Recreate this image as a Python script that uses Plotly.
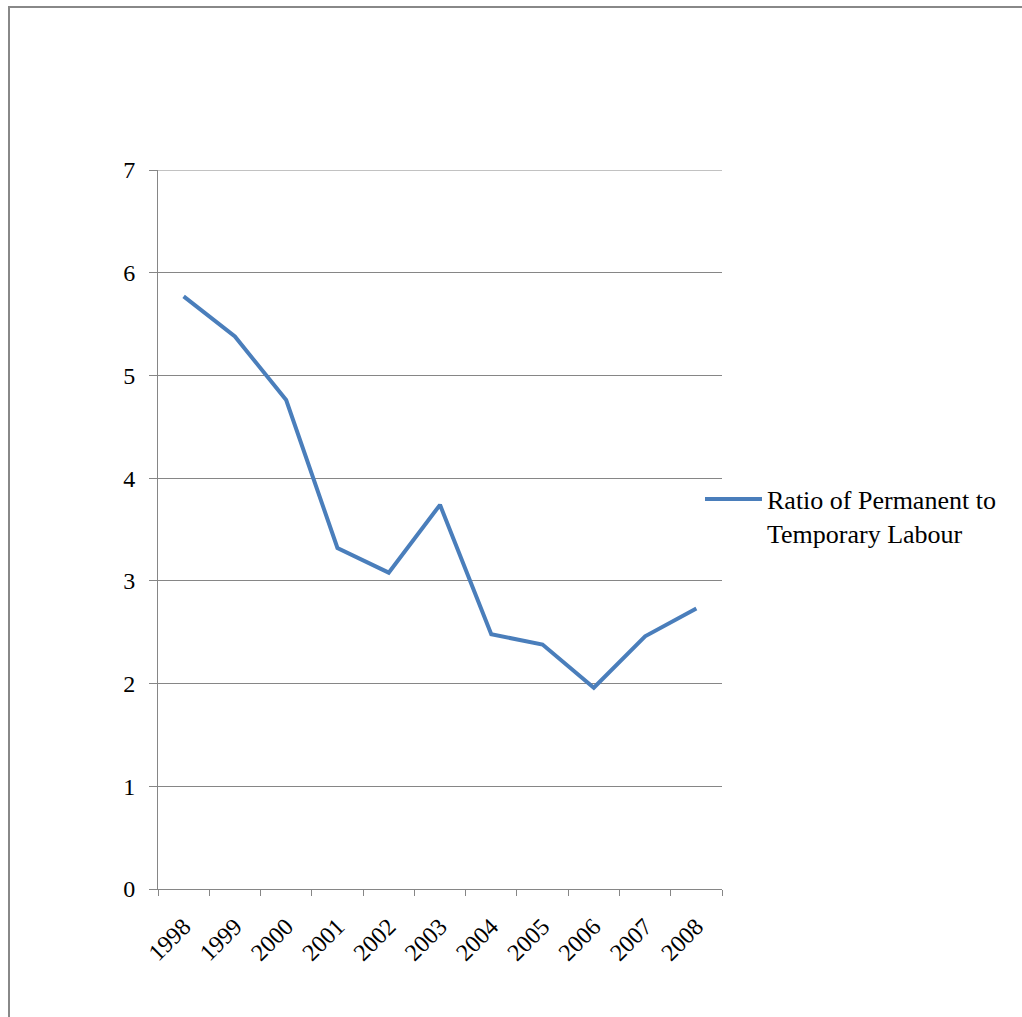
import plotly.graph_objects as go

years = ["1998", "1999", "2000", "2001", "2002", "2003", "2004", "2005", "2006", "2007", "2008"]
ratio = [5.77, 5.38, 4.76, 3.32, 3.08, 3.74, 2.48, 2.38, 1.96, 2.46, 2.73]
series_name = "Ratio of Permanent to<br>Temporary Labour"

fig = go.Figure()
fig.add_trace(go.Scatter(
    x=years, y=ratio, mode="lines", name=series_name,
    line=dict(color="#4A7EBB", width=4),
))

L, R, T, B = 158, 722, 170, 889
W, H = 1022, 1017
pw, ph = R - L, B - T

fig.update_layout(
    width=W, height=H,
    margin=dict(l=L, r=W - R, t=T, b=H - B, pad=0),
    paper_bgcolor="white", plot_bgcolor="white",
    font=dict(family="Liberation Serif", size=24, color="black"),
    showlegend=True,
    legend=dict(x=(700 - L) / pw, y=(889 - 516) / ph, xanchor="left", yanchor="middle",
                font=dict(size=26), bgcolor="rgba(0,0,0,0)", tracegroupgap=0,
                itemwidth=57, valign="top"),
    xaxis=dict(
        type="category", range=[-0.5, len(years) - 0.5],
        showline=True, linecolor="#868686", linewidth=1,
        ticks="outside", tickson="boundaries", ticklen=6, tickcolor="#868686",
        tickangle=-45, showgrid=False, tickfont=dict(size=24),
        ticklabelstandoff=13,
    ),
    yaxis=dict(
        range=[0, 7], dtick=1, showline=True, linecolor="#868686", linewidth=1,
        ticks="outside", ticklen=8, tickcolor="#868686",
        showgrid=True, gridcolor="#868686", gridwidth=1, zeroline=False,
        tickfont=dict(size=24), ticklabelstandoff=9,
    ),
)

# top gridline at y=7 (edge of range)
fig.add_shape(type="line", xref="paper", yref="y", x0=0, x1=1, y0=7, y1=7,
              line=dict(color="#868686", width=1))

# outer frame
fig.add_shape(type="rect", xref="paper", yref="paper",
              x0=(9 - L) / pw, x1=(1040 - L) / pw,
              y0=(B - 1040) / ph, y1=(B - 7) / ph,
              line=dict(color="#888888", width=2), layer="below")

fig.write_html("out.html")
